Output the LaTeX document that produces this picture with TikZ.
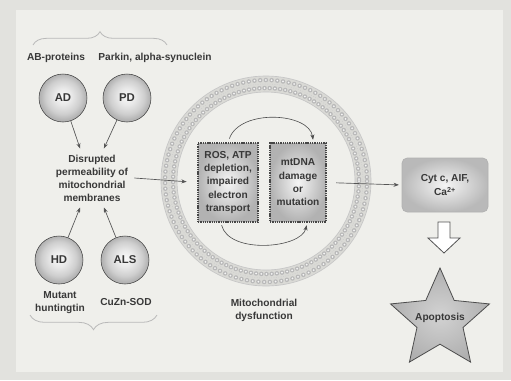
\documentclass[tikz,border=0pt]{standalone}
\usepackage{fontspec}
\setmainfont{Liberation Sans}
\usetikzlibrary{shapes.geometric,decorations.pathreplacing,arrows.meta,calc}

\definecolor{bgout}{HTML}{E2E2DE}
\definecolor{bgin}{HTML}{EFEFEB}
\definecolor{ink}{HTML}{383838}
\definecolor{lineg}{HTML}{555555}
\definecolor{membrane}{HTML}{DADAD6}

% light sphere: pale centre, grey rim
\pgfdeclareradialshading{spherelight}{\pgfpoint{0bp}{2bp}}{%
  color(0bp)=(gray!4); color(9bp)=(gray!18); color(18bp)=(gray!38);
  color(24bp)=(gray!60); color(50bp)=(gray!60)}

\begin{document}
\begin{tikzpicture}[x=0.75pt,y=-0.75pt,
  lbl/.style={text=ink,font=\bfseries\fontsize{7.6}{9.75}\selectfont,align=center,inner sep=0pt},
  sphere/.style={circle,minimum size=36pt,inner sep=0pt,shading=spherelight,
    draw=gray!50!black,line width=0.4pt,text=ink,font=\bfseries\fontsize{8.5}{9}\selectfont},
  ubox/.style={rectangle,inner sep=0pt,minimum height=59pt,inner color=gray!8,outer color=gray!60,
    draw=gray!55!black,line width=1.1pt,dash pattern=on 1pt off 0.7pt,
    text=ink,font=\bfseries\fontsize{7.6}{10}\selectfont,align=center},
  conn/.style={draw=lineg,line width=0.5pt,-{Stealth[length=4pt,width=3pt]}},
  arc/.style={draw=gray!60!black,line width=0.45pt,-{Stealth[length=4pt,width=3pt]}},
  bracegray/.style={draw=gray!55,line width=0.6pt,decorate},
]
% page and panel
\fill[bgout] (0,0) rectangle (511,380);
\fill[bgin] (16,10) rectangle (503,372);
\useasboundingbox (0,0) rectangle (511,380);

% braces grouping the diseases
\draw[bracegray,decoration={brace,amplitude=10pt}] (33,45) -- (167,45);
\draw[bracegray,decoration={brace,amplitude=11pt}] (157,315) -- (30,315);

% gene products and diseases
\node[lbl] (abp) at (56,58) {AB-proteins};
\node[lbl] (park) at (155,58) {Parkin, alpha-synuclein};
\node[sphere] (ad) at (63,98) {AD};
\node[sphere] (pd) at (127,98) {PD};
\node[sphere] (hd) at (59,260) {HD};
\node[sphere] (als) at (125,260) {ALS};
\node[lbl] (mut) at (60,303) {Mutant\\huntingtin};
\node[lbl] (sod) at (126,302) {CuZn-SOD};

% permeability label
\node[lbl,inner sep=4.5pt] (dis) at (92,178) {Disrupted\\permeability of\\mitochondrial\\membranes};

% mitochondrial membrane ring
\fill[membrane,even odd rule] (266,181) circle[radius=105] circle[radius=89];
\draw[gray!45,line width=0.5pt] (266,181) circle[radius=105];
\draw[gray!45,line width=0.5pt] (266,181) circle[radius=89];
\draw[gray!55,line width=3.4pt,dash pattern=on 0pt off 4.3pt,line cap=round] (266,181) circle[radius=101];
\draw[white!92!gray,line width=1.5pt,dash pattern=on 0pt off 4.3pt,line cap=round] (266,181) circle[radius=101];
\draw[gray!55,line width=3.4pt,dash pattern=on 0pt off 3.9pt,line cap=round] (266,181) circle[radius=93];
\draw[white!92!gray,line width=1.5pt,dash pattern=on 0pt off 3.9pt,line cap=round] (266,181) circle[radius=93];
\draw[gray!40,line width=0.4pt,dash pattern=on 0.6pt off 1.2pt] (266,181) circle[radius=97];

% events inside the mitochondrion
\node[ubox,minimum width=45pt] (ros) at (228,182.5) {ROS, ATP\\depletion,\\impaired\\electron\\transport};
\node[ubox,minimum width=42pt] (mt) at (298,182.5) {mtDNA\\damage\\or\\mutation};
\node[lbl] (mito) at (264,310) {Mitochondrial\\dysfunction};

\draw[arc,shorten <=3pt,shorten >=2pt] (ros.north) .. controls +(12,-34) and +(-4,-30) .. (mt.69);
\draw[arc,shorten <=2pt,shorten >=2pt] (ros.-100) .. controls +(8,32) and +(-6,26) .. (mt.-77);

% released factors and apoptosis
\node[rectangle,rounded corners=4pt,minimum width=64.5pt,minimum height=40.5pt,inner sep=0pt,
  inner color=gray!8,outer color=gray!55,draw=gray!60,line width=0.6pt,
  text=ink,font=\bfseries\fontsize{7.6}{11}\selectfont,align=center] (cyt) at (445,185)
  {Cyt c, AIF,\\Ca\textsuperscript{2+}};

\coordinate (harrow) at (444,222);
\draw[fill=white,draw=gray!65!black,line width=0.6pt,line join=miter]
  ($(harrow)+(-6,0)$) -- ($(harrow)+(6,0)$) -- ($(harrow)+(6,16)$) -- ($(harrow)+(16,16)$)
  -- ($(harrow)+(0,31)$) -- ($(harrow)+(-16,16)$) -- ($(harrow)+(-6,16)$) -- cycle;

\node[star,star points=5,star point ratio=2.15,minimum size=78pt,inner sep=0pt,
  inner color=gray!35,outer color=gray!62,draw=gray!60!black,line width=0.6pt] (apop) at (440,320) {};
\node[lbl] (apoptxt) at (440,318) {Apoptosis};

% connectors
\draw[conn] (ad) -- (dis.112);
\draw[conn] (pd) -- (dis.68);
\draw[conn] (hd) -- (dis.-112);
\draw[conn] (als) -- (dis.-68);
\draw[conn,shorten >=8pt] (dis.east) -- (ros.west);
\draw[conn,shorten <=7pt,shorten >=2pt] (mt.east) -- (cyt.west);
\end{tikzpicture}
\end{document}
